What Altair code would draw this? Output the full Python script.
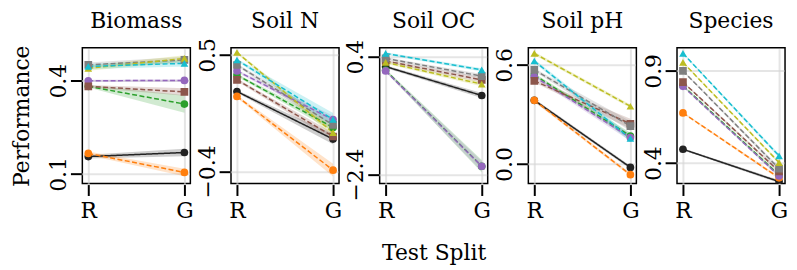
import altair as alt
import pandas as pd

# ---------------- data ----------------
PANELS = ["Biomass", "Soil N", "Soil OC", "Soil pH", "Species"]
SPLITS = ["R", "G"]
SERIES = ["Baseline", "Model A", "Model B", "Model C", "Model D", "Model E", "Model F", "Model G"]
COLORS = ["#222222", "#ff7f0e", "#2ca02c", "#9467bd", "#8c564b", "#7f7f7f", "#bcbd22", "#17becf"]
SHAPES = ["circle", "circle", "circle", "circle", "square", "square", "triangle-up", "triangle-up"]
DASHES = [[1, 0], [5, 2.5], [5, 2.5], [5, 2.5], [5, 2.5], [5, 2.5], [5, 2.5], [5, 2.5]]

# mean performance at split R and G, in SERIES order (None = not shown)
BIOMASS_R = [0.156, 0.166, 0.382, 0.400, 0.382, 0.451, 0.440, 0.446]
BIOMASS_G = [0.169, 0.105, 0.325, 0.401, 0.364, 0.467, 0.472, 0.456]
SOILN_R = [0.218, 0.180, 0.345, 0.377, 0.308, 0.423, 0.520, 0.462]
SOILN_G = [-0.150, -0.390, -0.060, 0.000, -0.130, -0.040, -0.100, 0.002]
SOILOC_R = [0.165, None, 0.080, 0.063, 0.300, 0.360, 0.266, 0.478]
SOILOC_G = [-0.520, None, -2.200, -2.200, -0.150, -0.060, -0.250, 0.087]
SOILPH_R = [0.386, 0.386, 0.540, 0.530, 0.504, 0.570, 0.670, 0.624]
SOILPH_G = [-0.020, -0.064, 0.170, 0.160, 0.244, 0.230, 0.350, 0.155]
SPECIES_R = [0.475, 0.672, 0.820, 0.816, 0.839, 0.900, 0.946, 0.995]
SPECIES_G = [0.300, 0.320, 0.335, 0.330, 0.355, 0.370, 0.403, 0.439]

# half-width of the shaded band at R and G
BIOMASS_ER = [0.006, 0.006, 0.004, 0.003, 0.004, 0.008, 0.008, 0.008]
BIOMASS_EG = [0.012, 0.012, 0.028, 0.004, 0.012, 0.010, 0.010, 0.010]
SOILN_ER = [0.010, 0.010, 0.010, 0.010, 0.010, 0.010, 0.010, 0.010]
SOILN_EG = [0.040, 0.050, 0.030, 0.030, 0.030, 0.040, 0.030, 0.050]
SOILOC_ER = [0.030, None, 0.030, 0.030, 0.030, 0.030, 0.030, 0.030]
SOILOC_EG = [0.060, None, 0.150, 0.120, 0.060, 0.050, 0.050, 0.040]
SOILPH_ER = [0.010, 0.010, 0.010, 0.010, 0.010, 0.010, 0.010, 0.010]
SOILPH_EG = [0.010, 0.010, 0.020, 0.020, 0.030, 0.030, 0.010, 0.020]
SPECIES_ER = [0.005, 0.005, 0.005, 0.005, 0.005, 0.005, 0.005, 0.005]
SPECIES_EG = [0.008, 0.008, 0.008, 0.008, 0.010, 0.010, 0.008, 0.010]

Y_DOMAINS = [[0.069, 0.506], [-0.494, 0.556], [-2.612, 0.612], [-0.118, 0.704], [0.289, 1.025]]
Y_TICKS = [[0.1, 0.4], [-0.4, 0.5], [-2.4, 0.4], [0.0, 0.6], [0.4, 0.9]]

VALUES_R = [BIOMASS_R, SOILN_R, SOILOC_R, SOILPH_R, SPECIES_R]
VALUES_G = [BIOMASS_G, SOILN_G, SOILOC_G, SOILPH_G, SPECIES_G]
ERR_R = [BIOMASS_ER, SOILN_ER, SOILOC_ER, SOILPH_ER, SPECIES_ER]
ERR_G = [BIOMASS_EG, SOILN_EG, SOILOC_EG, SOILPH_EG, SPECIES_EG]

FONT = "DejaVu Serif"
PW, PH = 109, 137

color = alt.Color("series:N", scale=alt.Scale(domain=SERIES, range=COLORS), legend=None)
dash = alt.StrokeDash("series:N", scale=alt.Scale(domain=SERIES, range=DASHES), legend=None)
shape = alt.Shape("series:N", scale=alt.Scale(domain=SERIES, range=SHAPES), legend=None)


def make_panel(i):
    rows = []
    for k, s in enumerate(SERIES):
        vr, vg = VALUES_R[i][k], VALUES_G[i][k]
        if vr is None:
            continue
        er, eg = ERR_R[i][k], ERR_G[i][k]
        rows.append(dict(series=s, order=k, split="R", value=vr, lo=vr - er, hi=vr + er))
        rows.append(dict(series=s, order=k, split="G", value=vg, lo=vg - eg, hi=vg + eg))
    df = pd.DataFrame(rows)

    x = alt.X(
        "split:N",
        sort=SPLITS,
        scale=alt.Scale(domain=SPLITS, type="point", padding=0.062),
        axis=alt.Axis(title="Test Split" if i == 2 else None, labelAngle=0, grid=True,
                      titlePadding=22),
    )
    yscale = alt.Scale(domain=Y_DOMAINS[i], nice=False, zero=False)
    y = alt.Y(
        "value:Q",
        scale=yscale,
        axis=alt.Axis(
            values=Y_TICKS[i],
            format=".1f",
            title="Performance" if i == 0 else None,
            labelAngle=270,
            labelAlign="center",
            labelBaseline="alphabetic",
            grid=True,
        ),
    )
    base = alt.Chart(df)
    band = base.mark_area(opacity=0.22, clip=True).encode(
        x=x, y=alt.Y("lo:Q", scale=yscale), y2="hi:Q", color=color, detail="series:N"
    )
    line = base.mark_line(strokeWidth=1.5, clip=True).encode(
        x=x, y=y, color=color, strokeDash=dash, detail="series:N", order="order:Q"
    )
    pts = base.mark_point(filled=True, opacity=1, size=60, clip=True).encode(
        x=x, y=y, color=color, shape=shape, order="order:Q"
    )
    ttl = alt.Chart(pd.DataFrame({"t": [PANELS[i]]})).mark_text(
        font=FONT, fontSize=22, baseline="alphabetic", align="center", color="black"
    ).encode(x=alt.value(PW / 2), y=alt.value(-20), text="t:N")
    return alt.layer(band, line, pts, ttl).properties(width=PW, height=PH)


chart = (
    alt.hconcat(*[make_panel(i) for i in range(5)], spacing=41, bounds="flush")
    .properties(padding={"left": 2, "top": 0, "right": 0, "bottom": 0})
    .configure_view(stroke="black", strokeWidth=1.5)
    .configure_axis(
        domain=False,
        ticks=True,
        tickColor="black",
        tickWidth=2,
        tickSize=11,
        offset=1,
        labelFont=FONT,
        labelFontSize=22,
        labelColor="black",
        labelPadding=5,
        titleFont=FONT,
        titleFontSize=22,
        titleFontWeight="normal",
        titleColor="black",
        titlePadding=14,
        gridColor="#d4d4d4",
        gridOpacity=0.6,
        gridWidth=2,
    )
)

chart.save("out.html", embed_options={"renderer": "svg", "actions": False})
